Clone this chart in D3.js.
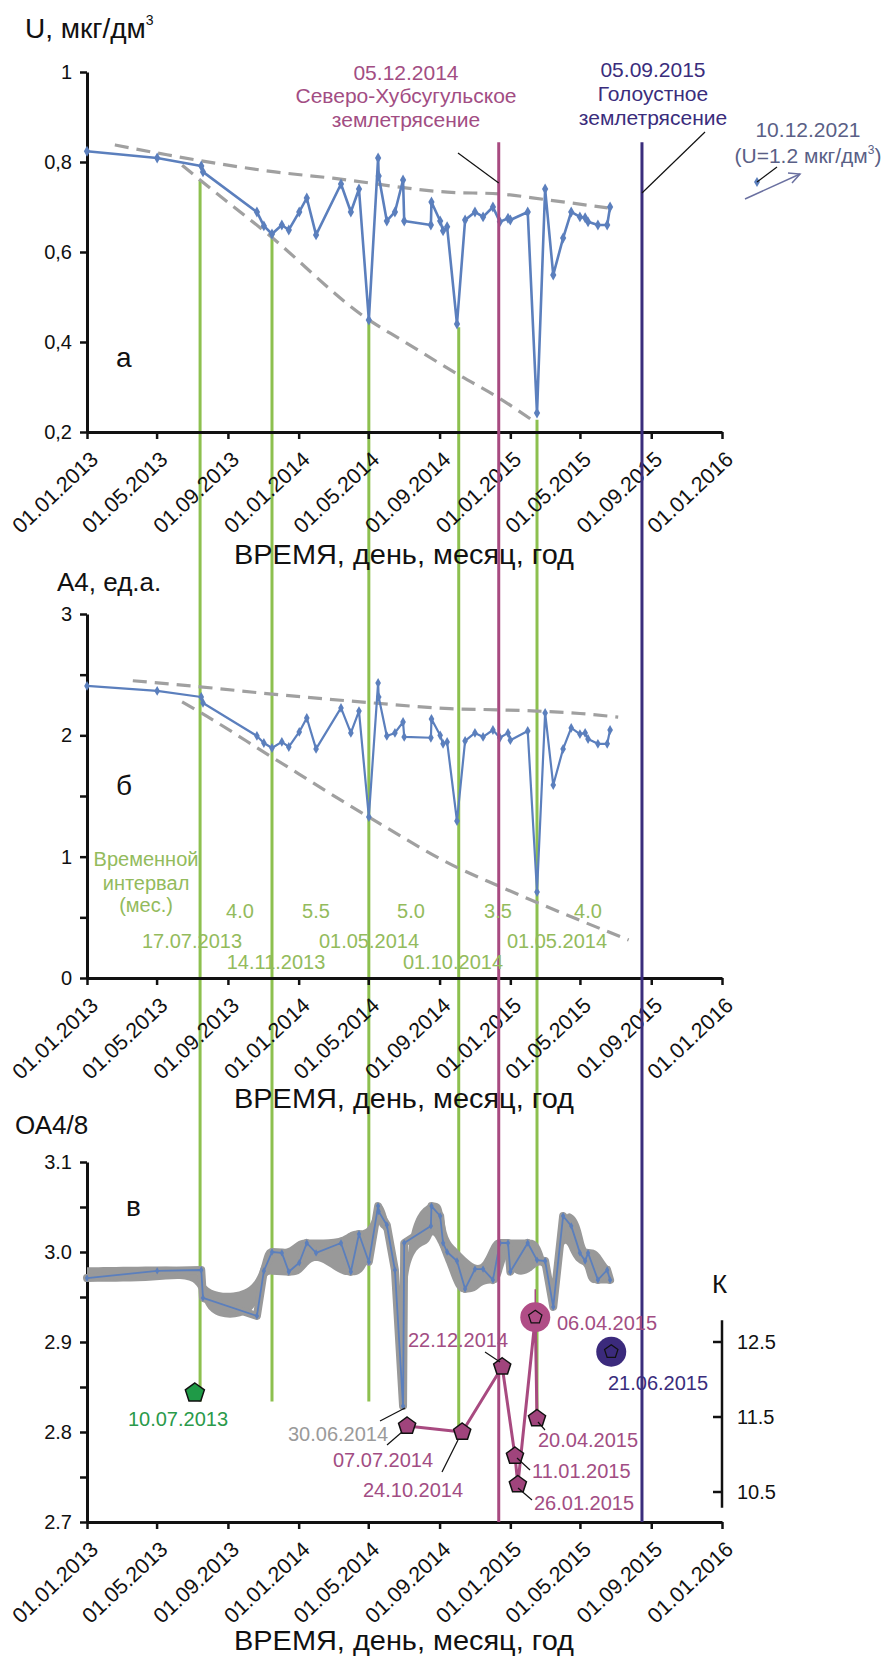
<!DOCTYPE html>
<html><head><meta charset="utf-8">
<script src="https://cdn.jsdelivr.net/npm/d3@7"></script>
<style>body{margin:0;background:#fff} text{font-family:"Liberation Sans",Arial,sans-serif}</style>
</head><body><svg id="c" width="887" height="1656"></svg>
<script>
// ---------------- DATA ----------------
const dates = ["2013-01-01","2013-05-02","2013-07-17","2013-07-20","2013-10-21","2013-11-02","2013-11-16","2013-12-03","2013-12-15","2014-01-02",
"2014-01-15","2014-01-31","2014-03-15","2014-04-01","2014-04-15","2014-05-02","2014-05-18","2014-05-19","2014-06-02","2014-06-16",
"2014-06-30","2014-07-02","2014-08-17","2014-08-18","2014-09-02","2014-09-07","2014-09-14","2014-10-01","2014-10-15","2014-11-01",
"2014-11-15","2014-12-02","2014-12-14","2014-12-28","2015-01-01","2015-01-31","2015-02-16","2015-03-02","2015-03-16","2015-04-02",
"2015-04-16","2015-05-01","2015-05-10","2015-05-15","2015-06-01","2015-06-17","2015-06-22"];
const uValues = [0.824,0.809,0.791,0.778,0.689,0.658,0.640,0.660,0.649,0.689,
0.720,0.638,0.751,0.689,0.740,0.449,0.809,0.769,0.669,0.689,
0.760,0.669,0.660,0.711,0.669,0.647,0.656,0.440,0.671,0.689,
0.678,0.700,0.667,0.675,0.671,0.689,0.242,0.740,0.549,0.631,
0.689,0.678,0.676,0.667,0.660,0.660,0.700];
const a4Values = [2.407,2.366,2.316,2.267,1.995,1.937,1.896,1.946,1.904,2.028,
2.143,1.888,2.226,2.02,2.2,1.327,2.432,2.316,1.995,2.02,
2.11,1.987,1.98,2.135,2.0,1.93,1.946,1.294,1.954,2.02,
1.987,2.044,1.98,2.02,1.96,2.036,0.709,2.185,1.59,1.888,
2.061,2.01,2.02,1.97,1.93,1.93,2.044];
const oaValues = [2.971,2.979,2.98,2.949,2.929,2.979,3.0,2.999,2.978,2.988,
3.01,2.999,3.01,2.978,3.02,2.989,3.051,3.045,3.03,2.98,
2.829,3.01,3.029,3.051,3.04,3.01,3.0,2.99,2.959,2.981,
2.981,2.969,3.01,3.01,2.978,3.01,2.991,2.99,2.939,3.04,
3.029,2.999,2.99,2.999,2.969,2.98,2.969];

const uUpperDates = ["2013-02-18","2013-05-19","2013-11-21","2014-03-01","2014-09-15","2014-12-14","2015-03-05","2015-06-18"];
const uUpperValues = [0.838,0.816,0.778,0.764,0.733,0.729,0.716,0.698];
const uLowerDates = ["2013-06-14","2013-07-15","2013-11-07","2014-05-02","2014-06-28","2014-10-04","2014-12-12","2015-02-07"];
const uLowerValues = [0.793,0.760,0.642,0.449,0.404,0.327,0.276,0.227];
const a4UpperDates = ["2013-03-21","2013-07-15","2013-11-16","2014-05-02","2014-09-19","2014-12-12","2015-02-16","2015-05-01","2015-07-06"];
const a4UpperValues = [2.45,2.40,2.34,2.27,2.22,2.21,2.20,2.18,2.15];
const a4LowerDates = ["2013-06-14","2013-07-15","2013-11-16","2014-05-02","2014-10-03","2014-12-12","2015-02-18","2015-07-24"];
const a4LowerValues = [2.275,2.19,1.82,1.327,0.907,0.758,0.618,0.313];

const xTickLabels = ["01.01.2013","01.05.2013","01.09.2013","01.01.2014","01.05.2014","01.09.2014","01.01.2015","01.05.2015","01.09.2015","01.01.2016"];
const uTicks = [0.2,0.4,0.6,0.8,1];
const uTickLabels = ["0,2","0,4","0,6","0,8","1"];
const a4Ticks = [0,0.5,1,1.5,2,2.5,3];
const a4TickLabels = ["0","","1","","2","","3"];
const oaTicks = [2.7,2.75,2.8,2.85,2.9,2.95,3.0,3.05,3.1];
const oaTickLabels = ["2.7","","2.8","","2.9","","3.0","","3.1"];
const kTicks = [10.5,11.5,12.5];
const kTickLabels = ["10.5","11.5","12.5"];

const greenDates = ["2013-07-15","2013-11-16","2014-05-02","2014-10-04","2015-02-16"];
const greenStartU = [0.760,0.642,0.449,0.433,0.227];
const greenEndOA = [2.834,2.834,2.834,2.801,2.817];
const eventDates = ["2014-12-12","2015-08-16"];
const eventColors = ["#a84a80","#3a2d7c"];
const eventTopU = 0.844;

const kDates = ["2014-07-07","2014-10-10","2014-12-18","2015-01-09","2015-01-14","2015-02-13","2015-02-16"];
const kValues = [11.38,11.30,12.17,10.98,10.60,12.83,11.48];
const kLabels = ["07.07.2014","24.10.2014","22.12.2014","11.01.2015","26.01.2015","06.04.2015","20.04.2015"];
const greenEventDate = "2013-07-06", greenEventK = 11.82, greenEventLabel = "10.07.2013";
const navyEventDate = "2015-06-24", navyEventK = 12.37, navyEventLabel = "21.06.2015";
const dipLabel = "30.06.2014";

const intervalLabels = ["4.0","5.5","5.0","3.5","4.0"];
const intervalDateLabels = ["17.07.2013","14.11.2013","01.05.2014","01.10.2014","01.05.2014"];

// ---------------- CHART ----------------
const parse = d3.timeParse("%Y-%m-%d");
const parseT = d3.timeParse("%d.%m.%Y");
const svg = d3.select("#c");
const BLUE = "#5b7fbd", GREEN = "#8dc04f", GTXT = "#93bb5c", GRAY = "#a0a0a0", MAG = "#a84a80", NAVY = "#3a2d7c", MAGT="#a24d83";
const FONT = '"Liberation Sans",Arial,sans-serif';

const x = d3.scaleTime().domain([parse("2013-01-01"), parse("2016-01-01")]).range([87, 722]);
const yU = d3.scaleLinear().domain([0.2, 1]).range([432, 72]);
const yA = d3.scaleLinear().domain([0, 3]).range([978, 614]);
const yO = d3.scaleLinear().domain([2.7, 3.1]).range([1522, 1162]);
const yK = d3.scaleLinear().domain([10.5, 12.5]).range([1492, 1342]);

const gBack = svg.append("g"), gMid = svg.append("g"), gTop = svg.append("g");

// green vertical lines
greenDates.forEach((d, i) => {
  gBack.append("line").attr("x1", x(parse(d))).attr("x2", x(parse(d)))
    .attr("y1", yU(greenStartU[i])).attr("y2", yO(greenEndOA[i]))
    .attr("stroke", GREEN).attr("stroke-width", 3);
});

function xAxis(yPos, title, titleY) {
  const g = gMid.append("g").attr("transform", `translate(0,${yPos})`)
    .call(d3.axisBottom(x).tickValues(xTickLabels.map(parseT)).tickFormat(d3.timeFormat("%d.%m.%Y")).tickSize(7).tickSizeOuter(0));
  g.select(".domain").attr("stroke", "#111").attr("stroke-width", 3);
  g.selectAll(".tick line").attr("stroke", "#111").attr("stroke-width", 2.5);
  g.selectAll(".tick text").attr("font-size", 21.5).attr("font-family", FONT).attr("fill", "#111")
    .attr("text-anchor", "end").attr("x", 0).attr("y", 0).attr("dy", 0)
    .attr("transform", "translate(12,29) rotate(-43)");
  gMid.append("text").attr("x", 404).attr("y", titleY).attr("text-anchor", "middle")
    .attr("font-size", 28).attr("textLength", 340).attr("lengthAdjust", "spacingAndGlyphs")
    .attr("fill", "#111").text(title);
}
function yAxis(scale, ticks, labels) {
  const g = gMid.append("g").attr("transform", "translate(87,0)")
    .call(d3.axisLeft(scale).tickValues(ticks).tickFormat((d, i) => labels[i]).tickSize(7).tickSizeOuter(0));
  g.select(".domain").attr("stroke", "#111").attr("stroke-width", 3);
  g.selectAll(".tick line").attr("stroke", "#111").attr("stroke-width", 2.5);
  g.selectAll(".tick text").attr("font-size", 20).attr("font-family", FONT).attr("fill", "#111").attr("x", -15);
}
const xTitle = "ВРЕМЯ, день, месяц, год";

// ---- Panel a ----
yAxis(yU, uTicks, uTickLabels);
xAxis(432, xTitle, 564);
const dash = (g, ds, vs, ys) => g.append("path")
  .datum(ds.map((d, i) => [x(parse(d)), ys(vs[i])]))
  .attr("d", d3.line().curve(d3.curveMonotoneX))
  .attr("fill", "none").attr("stroke", GRAY).attr("stroke-width", 3.2).attr("stroke-dasharray", "14 8");
dash(gMid, uUpperDates, uUpperValues, yU);
dash(gMid, uLowerDates, uLowerValues, yU);
function series(vals, ys, w, ms) {
  const pts = dates.map((d, i) => [x(parse(d)), ys(vals[i])]);
  gMid.append("path").datum(pts).attr("d", d3.line()).attr("fill", "none")
    .attr("stroke", BLUE).attr("stroke-width", w).attr("stroke-linejoin", "round");
  gMid.selectAll(null).data(pts).join("path")
    .attr("transform", p => `translate(${p[0]},${p[1]})`)
    .attr("d", d3.symbol(d3.symbolDiamond, ms)).attr("fill", BLUE);
}
series(uValues, yU, 2.6, 34);
svg.append("text").attr("x", 25).attr("y", 38).attr("font-size", 28).attr("fill", "#111")
  .html('U, мкг/дм<tspan font-size="14" dy="-13">3</tspan>');
svg.append("text").attr("x", 116).attr("y", 367).attr("font-size", 28).attr("fill", "#111").text("а");

// ---- Panel б ----
yAxis(yA, a4Ticks, a4TickLabels);
xAxis(978, xTitle, 1108);
dash(gMid, a4UpperDates, a4UpperValues, yA);
dash(gMid, a4LowerDates, a4LowerValues, yA);
series(a4Values, yA, 2.2, 28);
svg.append("text").attr("x", 57).attr("y", 591).attr("font-size", 26).attr("fill", "#111").text("А4, ед.а.");
svg.append("text").attr("x", 116).attr("y", 795).attr("font-size", 28).attr("fill", "#111").text("б");
["Временной", "интервал", "(мес.)"].forEach((t, i) => {
  svg.append("text").attr("x", 146).attr("y", [866, 890, 912][i]).attr("text-anchor", "middle")
    .attr("font-size", 20).attr("fill", GTXT).text(t);
});
const intX = [240, 316, 411, 498, 588];
intervalLabels.forEach((t, i) => svg.append("text").attr("x", intX[i]).attr("y", 918).attr("text-anchor", "middle")
  .attr("font-size", 20).attr("fill", GTXT).text(t));
const idX = [192, 276, 369, 453, 557], idY = [948, 969, 948, 969, 948];
intervalDateLabels.forEach((t, i) => svg.append("text").attr("x", idX[i]).attr("y", idY[i]).attr("text-anchor", "middle")
  .attr("font-size", 20).attr("fill", GTXT).text(t));

// ---- Panel в ----
yAxis(yO, oaTicks, oaTickLabels);
xAxis(1522, xTitle, 1650);
const oaPts = dates.map((d, i) => ({ d: parse(d), v: oaValues[i] }));
const band = oaPts.map((p, i) => {
  const nb = [p.v];
  [i - 1, i + 1].forEach(j => {
    if (j < 0 || j >= oaPts.length) return;
    const diff = Math.abs(oaPts[j].v - p.v), gap = Math.abs(oaPts[j].d - p.d) / 864e5;
    if (diff < 0.045 && !(gap < 5 && diff > 0.025)) nb.push(oaPts[j].v);
  });
  return { d: p.d, lo: d3.min(nb) - 0.004, hi: d3.max(nb) + 0.004 };
});
gMid.append("path").datum(band).attr("d", d3.area().x(b => x(b.d)).y0(b => yO(b.lo)).y1(b => yO(b.hi)).curve(d3.curveBasis))
  .attr("fill", "#999");
gMid.append("path").datum(oaPts).attr("d", d3.line().x(p => x(p.d)).y(p => yO(p.v)))
  .attr("fill", "none").attr("stroke", "#999").attr("stroke-width", 8).attr("stroke-linejoin", "round").attr("stroke-linecap", "round");
series(oaValues, yO, 1.8, 16);
svg.append("text").attr("x", 15).attr("y", 1134).attr("font-size", 26).attr("fill", "#111").text("ОА4/8");
svg.append("text").attr("x", 126).attr("y", 1216).attr("font-size", 28).attr("fill", "#111").text("в");

// event vertical lines
eventDates.forEach((d, i) => gTop.append("line").attr("x1", x(parse(d))).attr("x2", x(parse(d)))
  .attr("y1", yU(eventTopU)).attr("y2", yO(2.7)).attr("stroke", eventColors[i]).attr("stroke-width", 3));

// right K axis
gTop.append("line").attr("x1", 722).attr("x2", 722).attr("y1", yK(12.79)).attr("y2", yK(10.29)).attr("stroke", "#111").attr("stroke-width", 2.5);
kTicks.forEach((t, i) => {
  gTop.append("line").attr("x1", 713).attr("x2", 722).attr("y1", yK(t)).attr("y2", yK(t)).attr("stroke", "#111").attr("stroke-width", 2.5);
  gTop.append("text").attr("x", 737).attr("y", yK(t) + 7).attr("font-size", 20).attr("fill", "#111").text(kTickLabels[i]);
});
gTop.append("text").attr("x", 712).attr("y", 1293).attr("font-size", 26).attr("fill", "#111").text("К");

// K events
const pent = r => "M" + d3.range(5).map(i => { const a = -Math.PI / 2 + i * 2 * Math.PI / 5; return [r * Math.cos(a), r * Math.sin(a)]; }).join("L") + "Z";
const kPts = kDates.map((d, i) => [x(parse(d)), yK(kValues[i])]);
gTop.append("line").attr("x1", kPts[5][0]).attr("x2", kPts[5][0]).attr("y1", kPts[5][1]).attr("y2", kPts[5][1] - 28)
  .attr("stroke", MAG).attr("stroke-width", 1.5);
gTop.append("path").datum(kPts).attr("d", d3.line()).attr("fill", "none").attr("stroke", MAG).attr("stroke-width", 3).attr("stroke-linejoin", "round");
kPts.forEach((p, i) => {
  const g = gTop.append("g").attr("transform", `translate(${p[0]},${p[1]})`);
  if (i === 5) {
    g.append("circle").attr("r", 15).attr("fill", "#b04d86");
    g.append("path").attr("d", pent(7)).attr("fill", "none").attr("stroke", "#111").attr("stroke-width", 1.3);
  } else {
    g.append("path").attr("d", pent(9)).attr("fill", "#a0447c").attr("stroke", "#111").attr("stroke-width", 1.5);
  }
});
{
  const g = gTop.append("g").attr("transform", `translate(${x(parse(greenEventDate))},${yK(greenEventK)})`);
  g.append("path").attr("d", pent(10)).attr("fill", "#1f9a47").attr("stroke", "#111").attr("stroke-width", 1.5);
  const n = gTop.append("g").attr("transform", `translate(${x(parse(navyEventDate))},${yK(navyEventK)})`);
  n.append("circle").attr("r", 15).attr("fill", "#3b2a7c");
  n.append("path").attr("d", pent(7)).attr("fill", "none").attr("stroke", "#111").attr("stroke-width", 1.3);
}
const lab = (t, xx, yy, c, anchor) => gTop.append("text").attr("x", xx).attr("y", yy).attr("font-size", 20)
  .attr("text-anchor", anchor || "start").attr("fill", c).text(t);
const lead = (x1, y1, x2, y2) => gTop.append("line").attr("x1", x1).attr("y1", y1).attr("x2", x2).attr("y2", y2).attr("stroke", "#111").attr("stroke-width", 1.2);
lab(greenEventLabel, 178, 1426, "#2a9a4a", "middle");
lab(dipLabel, 288, 1441, "#9a9a9a"); lead(380, 1421, 405, 1408);
lab(kLabels[0], 333, 1467, MAGT); lead(387, 1445, 402, 1432);
lab(kLabels[1], 363, 1497, MAGT); lead(442, 1472, 458, 1440);
lab(kLabels[2], 408, 1347, MAGT); lead(485, 1352, 500, 1362);
lab(kLabels[3], 532, 1478, MAGT); lead(517, 1458, 530, 1470);
lab(kLabels[4], 534, 1510, MAGT); lead(518, 1488, 532, 1500);
lab(kLabels[5], 557, 1330, MAGT);
lab(kLabels[6], 538, 1447, MAGT); lead(538, 1422, 545, 1430);
lab(navyEventLabel, 608, 1390, NAVY);

// top annotations
[["05.12.2014", 80], ["Северо-Хубсугульское", 103], ["землетрясение", 127]].forEach(([t, yy]) =>
  gTop.append("text").attr("x", 406).attr("y", yy).attr("text-anchor", "middle").attr("font-size", 21).attr("fill", MAGT).text(t));
[["05.09.2015", 77], ["Голоустное", 101], ["землетрясение", 125]].forEach(([t, yy]) =>
  gTop.append("text").attr("x", 653).attr("y", yy).attr("text-anchor", "middle").attr("font-size", 21).attr("fill", NAVY).text(t));
lead(458, 153, x(parse(eventDates[0])), 183);
lead(x(parse(eventDates[1])), 193, 705, 132);
gTop.append("text").attr("x", 808).attr("y", 137).attr("text-anchor", "middle").attr("font-size", 21).attr("fill", "#5a5f86").text("10.12.2021");
gTop.append("text").attr("x", 808).attr("y", 163).attr("text-anchor", "middle").attr("font-size", 21).attr("fill", "#5a5f86")
  .html('(U=1.2 мкг/дм<tspan font-size="12" dy="-9">3</tspan><tspan dy="9">)</tspan>');
gTop.append("path").attr("transform", "translate(757,182)").attr("d", d3.symbol(d3.symbolDiamond, 30)).attr("fill", BLUE);
lead(757, 182, 777, 167);
gTop.append("line").attr("x1", 745).attr("y1", 199).attr("x2", 800).attr("y2", 174).attr("stroke", "#6a70a0").attr("stroke-width", 1.5);
gTop.append("path").attr("d", "M788,173 L800,174 L792,183").attr("fill", "none").attr("stroke", "#6a70a0").attr("stroke-width", 1.5);
</script></body></html>
